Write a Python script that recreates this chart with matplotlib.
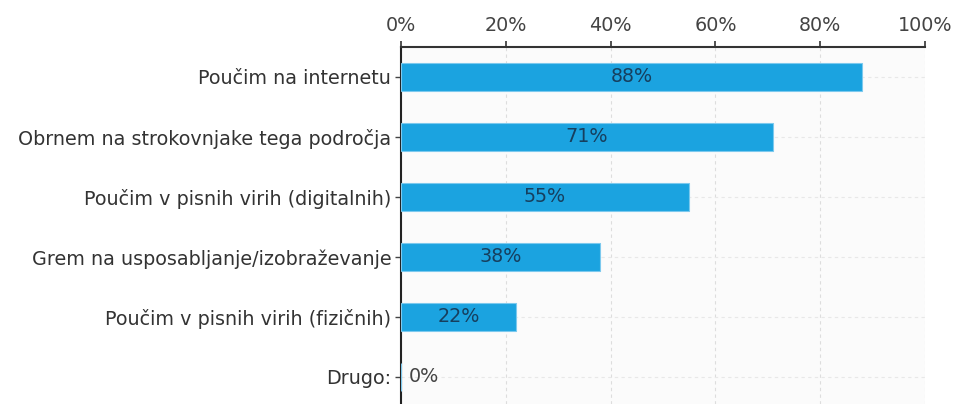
import numpy as np
import matplotlib.pyplot as plt
from matplotlib.ticker import FuncFormatter

categories = [
    "Poučim na internetu",
    "Obrnem na strokovnjake tega področja",
    "Poučim v pisnih virih (digitalnih)",
    "Grem na usposabljanje/izobraževanje",
    "Poučim v pisnih virih (fizičnih)",
    "Drugo:",
]
shares = [88, 71, 55, 38, 22, 0]
ticks = [0, 20, 40, 60, 80, 100]

plt.rcParams['font.family'] = ['DejaVu Sans']
fs = 13.8

fig = plt.figure(figsize=(9.56, 4.04), dpi=100)
ax = fig.add_axes([401 / 956, 0.0, 524 / 956, 1 - 47 / 404])
ax.set_facecolor('#fbfbfb')

y = np.arange(len(categories))
ax.barh(y, shares, height=0.47, color='#1ba3e0', edgecolor='#7cc9ee',
        linewidth=0.8, zorder=3)

for yi, v in zip(y, shares):
    if v >= 10:
        ax.text(v / 2, yi, f"{v}%", ha='center', va='center',
                fontsize=fs, color='#163f5e', zorder=4)
    else:
        ax.text(v + 1.5, yi, f"{v}%", ha='left', va='center',
                fontsize=fs, color='#444444', zorder=4)

ax.set_xlim(0, 100)
ax.set_ylim(5.45, -0.5)
ax.set_xticks(ticks)
ax.xaxis.set_major_formatter(FuncFormatter(lambda v, p: f"{v:.0f}%"))
ax.xaxis.tick_top()
ax.set_yticks(y)
ax.set_yticklabels(categories)

ax.tick_params(axis='x', direction='out', length=4.5, width=1.2, color='#333333',
               labelsize=fs, labelcolor='#444444', pad=4)
ax.tick_params(axis='y', direction='out', length=4, width=1, color='#444444',
               labelsize=fs, labelcolor='#333333', pad=3)

ax.grid(axis='x', color='#dddddd', linestyle=(0, (3, 3)), linewidth=0.8, zorder=0)
ax.grid(axis='y', color='#e8e8e8', linestyle=(0, (3, 3)), linewidth=0.8, zorder=0)

for side in ['right', 'bottom']:
    ax.spines[side].set_visible(False)
ax.spines['top'].set_color('#333333')
ax.spines['top'].set_linewidth(1.5)
ax.spines['left'].set_color('#222222')
ax.spines['left'].set_linewidth(1.5)

fig.savefig('out.png', dpi=100)
